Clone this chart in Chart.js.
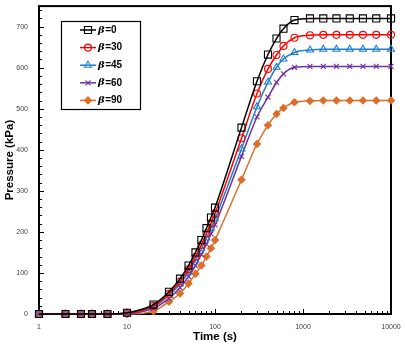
<!DOCTYPE html>
<html>
<head>
<meta charset="utf-8">
<script src="https://cdn.jsdelivr.net/npm/chart.js@4.4.1/dist/chart.umd.min.js"></script>
<style>
html,body{margin:0;padding:0;background:#fff}
#wrap{width:407px;height:349px}
</style>
</head>
<body>
<div id="wrap"><canvas id="chart"></canvas></div>
<script>
const times=[1,2,3,4,6,10,20,30,40,50,60,70,80,90,100,200,300,400,500,600,800,1200,1700,2400,3400,4800,6800,10000]

const beta0=[0,0,0,0,0,3,23,54,86,118,150,180,209,235,259,454,567,632,671,695,716,720,720,720,720,720,720,720]
const beta30=[0,0,0,0,0,2,20,49,79,109,139,168,196,221,245,428,537,597,631,653,673,679,680,680,680,680,680,680]
const beta45=[0,0,0,0,0,2,18,45,73,102,131,159,185,209,232,402,505,565,601,621,637,643,645,645,645,645,645,645]
const beta60=[0,0,0,0,0,1,14,38,64,91,118,145,170,195,217,384,480,528,564,585,601,603,603,603,603,603,603,603]
const beta90=[0,0,0,0,0,0,7,30,50,74,98,118,140,160,180,327,414,460,487,502,516,519,520,520,520,520,520,520]

const names=["0","30","45","60","90"]
const series=[beta0,beta30,beta45,beta60,beta90]
const colors=["#000000","#FF0000","#1F7FCF","#7030A0","#DC6E2A"]
const marks=["rect","circle","triangle","crossRot","rectRot"]
const sizes=[5,3.5,4,3.5,3.5]
const fills=["rgba(0,0,0,0)","rgba(0,0,0,0)","rgba(0,0,0,0)","rgba(0,0,0,0)","#DC6E2A"]

const yTicks=[0,100,200,300,400,500,600,700]
const xTicks=[1,10,100,1000,10000]

const datasets=series.map((s,i)=>({
label:"β="+names[i],
data:times.map((t,j)=>({x:t,y:s[j]})),
borderColor:colors[i],
backgroundColor:fills[i],
pointBorderColor:colors[i],
pointBackgroundColor:fills[i],
pointStyle:marks[i],
pointRadius:sizes[i],
pointBorderWidth:1.1,
borderWidth:1.5,
cubicInterpolationMode:"monotone",
clip:false
}))

// frame + inward ticks
const framePlugin={
id:"frame",
beforeDatasetsDraw(chart){
const {ctx,chartArea:a,scales}=chart
ctx.save()
ctx.strokeStyle="#000"
ctx.lineWidth=1
ctx.beginPath()
for(let v=0;v<=740;v+=20){
const y=Math.round(scales.y.getPixelForValue(v))+0.5
const len=v%100===0?5:3
ctx.moveTo(a.left,y)
ctx.lineTo(a.left+len,y)
}
for(let d=1;d<=10000;d*=10){
for(let k=1;k<=9;k++){
const v=d*k
if(v>10000) break
const x=Math.round(scales.x.getPixelForValue(v))+0.5
const len=k===1?5:3
ctx.moveTo(x,a.bottom)
ctx.lineTo(x,a.bottom-len)
}
}
ctx.stroke()
ctx.lineWidth=2
ctx.strokeRect(a.left,a.top,a.right-a.left,a.bottom-a.top)
ctx.restore()
}
}

// legend with line + marker samples
const legendPlugin={
id:"betaLegend",
afterDraw(chart){
const ctx=chart.ctx
const box={l:61,t:21,r:140,b:109}
ctx.save()
ctx.fillStyle="#fff"
ctx.fillRect(box.l,box.t,box.r-box.l,box.b-box.t)
ctx.strokeStyle="#000"
ctx.lineWidth=1.2
ctx.strokeRect(box.l+0.5,box.t+0.5,box.r-box.l,box.b-box.t)
names.forEach((n,i)=>{
const y=30+i*17.6
ctx.strokeStyle=colors[i]
ctx.lineWidth=1.5
ctx.beginPath()
ctx.moveTo(80,y)
ctx.lineTo(96,y)
ctx.stroke()
ctx.fillStyle=fills[i]
ctx.lineWidth=1.1
Chart.helpers.drawPoint(ctx,{pointStyle:marks[i],radius:sizes[i],rotation:0,borderWidth:1.1},88,y)
ctx.fillStyle="#000"
ctx.textBaseline="middle"
ctx.textAlign="left"
ctx.font="italic bold 10px 'DejaVu Serif'"
ctx.fillText("β",98,y)
const w=ctx.measureText("β").width
ctx.font="bold 10px 'Liberation Sans'"
ctx.fillText("="+n,98+w+0.5,y)
})
ctx.restore()
}
}

new Chart(document.getElementById("chart"),{
type:"line",
data:{datasets},
plugins:[framePlugin,legendPlugin],
options:{
responsive:true,
maintainAspectRatio:false,
animation:false,
layout:{padding:{top:1,right:16,left:0,bottom:0}},
plugins:{legend:{display:false},tooltip:{enabled:false}},
scales:{
x:{
type:"logarithmic",
min:1,
max:10000,
grid:{display:false},
border:{display:false},
afterBuildTicks(s){s.ticks=xTicks.map(v=>({value:v}))},
afterFit(s){s.height=35},
ticks:{
autoSkip:false,
maxRotation:0,
padding:1,
color:"#404040",
font:{family:"'Liberation Sans'",size:7},
callback:v=>String(v)
},
title:{display:true,text:"Time (s)",color:"#000",font:{family:"'Liberation Sans'",size:11.5,weight:"bold"},padding:{top:0,bottom:5}}
},
y:{
min:0,
max:750,
grid:{display:false},
border:{display:false},
afterBuildTicks(s){s.ticks=yTicks.map(v=>({value:v}))},
afterFit(s){s.width=39;s.paddingTop=0},
ticks:{
padding:3,
color:"#404040",
font:{family:"'Liberation Sans'",size:7}
},
title:{display:true,text:"Pressure (kPa)",color:"#000",font:{family:"'Liberation Sans'",size:11.5,weight:"bold"},padding:{top:3,bottom:0}}
}
}
}
})
</script>
</body>
</html>
